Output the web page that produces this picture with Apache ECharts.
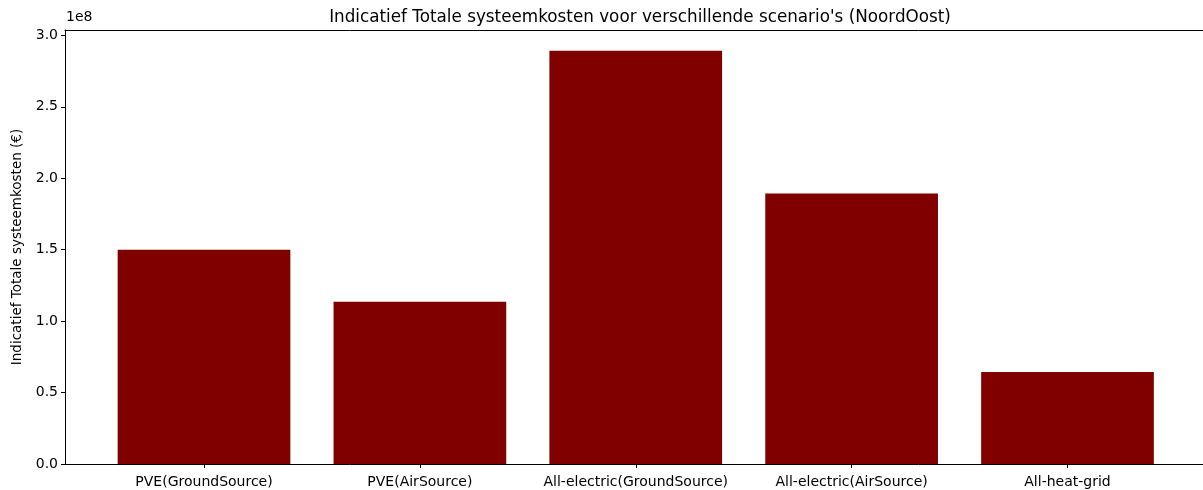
<!DOCTYPE html>
<html>
<head>
<meta charset="utf-8">
<script src="https://cdn.jsdelivr.net/npm/echarts@6/dist/echarts.min.js"></script>
<style>html,body{margin:0;padding:0;background:#fff}#c{width:1203px;height:490px}</style>
</head>
<body>
<div id="c"></div>
<script>
const categories = ['PVE(GroundSource)', 'PVE(AirSource)', 'All-electric(GroundSource)', 'All-electric(AirSource)', 'All-heat-grid'];
const costs = [1.50e8, 1.136e8, 2.893e8, 1.894e8, 0.644e8];
const yTicks = [0, 0.5e8, 1.0e8, 1.5e8, 2.0e8, 2.5e8, 3.0e8];

const yMax = Math.max(...costs) * 1.05;
const font = 'DejaVu Sans';
const chart = echarts.init(document.getElementById('c'), null, {renderer: 'canvas'});
chart.setOption({
  animation: false,
  backgroundColor: '#fff',
  title: {
    text: "Indicatief Totale systeemkosten voor verschillende scenario's (NoordOost)",
    left: 635, top: 4, textAlign: 'center',
    textStyle: {fontFamily: font, fontSize: 16.8, fontWeight: 'normal', color: '#000'}
  },
  graphic: [{
    type: 'text', left: 66, top: 10,
    style: {text: '1e8', font: '14px "DejaVu Sans"', fill: '#000'}
  }],
  grid: [
    {left: 65, right: -4, top: 30, bottom: 26},
    {left: 96.06, right: 27.56, top: 30, bottom: 26}
  ],
  xAxis: [
    {gridIndex: 0, type: 'value', min: 0, max: 1, position: 'bottom',
     axisLine: {show: true, lineStyle: {color: '#000', width: 1}},
     axisTick: {show: false}, axisLabel: {show: false}, splitLine: {show: false}},
    {gridIndex: 0, type: 'value', min: 0, max: 1, position: 'top',
     axisLine: {show: true, lineStyle: {color: '#000', width: 1}},
     axisTick: {show: false}, axisLabel: {show: false}, splitLine: {show: false}},
    {gridIndex: 1, type: 'category', data: categories, position: 'bottom',
     axisLine: {show: false},
     axisTick: {show: true, alignWithLabel: true, length: 4, lineStyle: {color: '#000'}},
     axisLabel: {fontFamily: font, fontSize: 14, color: '#000', margin: 11, interval: 0},
     splitLine: {show: false}}
  ],
  yAxis: [
    {gridIndex: 0, type: 'value', min: 0, max: yMax,
     axisLine: {show: true, lineStyle: {color: '#000', width: 1}},
     axisTick: {show: true, length: 4, lineStyle: {color: '#000'}, customValues: yTicks},
     axisLabel: {fontFamily: font, fontSize: 14, color: '#000', margin: 7,
       customValues: yTicks, hideOverlap: false,
       formatter: v => (v / 1e8).toFixed(1)},
     splitLine: {show: false},
     name: 'Indicatief Totale systeemkosten (€)', nameLocation: 'middle', nameGap: 38,
     nameTextStyle: {fontFamily: font, fontSize: 13.5, color: '#000'}},
    {gridIndex: 1, type: 'value', min: 0, max: yMax, show: false}
  ],
  series: [{
    type: 'bar', xAxisIndex: 2, yAxisIndex: 1,
    data: costs, barWidth: '80%',
    itemStyle: {color: '#800000'}
  }]
});
</script>
</body>
</html>
